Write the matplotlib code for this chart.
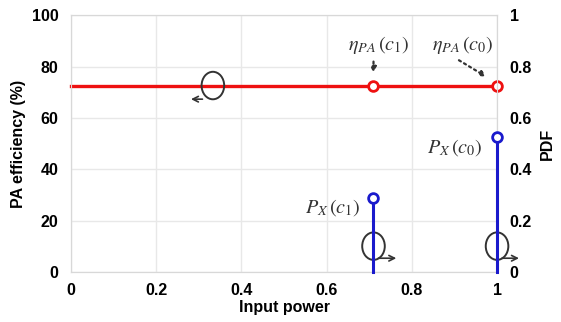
import matplotlib
matplotlib.use("Agg")
import matplotlib.pyplot as plt
from matplotlib.patches import Ellipse
from matplotlib.ticker import FuncFormatter

# Data
eff_x = [0.0, 0.71, 1.0]
eff_y = [72.5, 72.5, 72.5]
pdf_x = [0.71, 1.0]
pdf_y = [0.29, 0.525]
x_ticks = [0, 0.2, 0.4, 0.6, 0.8, 1.0]
left_ticks = [0, 20, 40, 60, 80, 100]
right_ticks = [0, 0.2, 0.4, 0.6, 0.8, 1.0]

plt.rcParams['font.family'] = ['Liberation Sans', 'DejaVu Sans']
plt.rcParams['mathtext.fontset'] = 'stix'

fig = plt.figure(figsize=(5.61, 3.22), dpi=100)
ax = fig.add_axes([0.1266, 0.155, 0.7594, 0.798])
ax2 = ax.twinx()

def fmt(v, pos):
    if abs(v - round(v)) < 1e-9:
        return str(int(round(v)))
    return ('%.1f' % v)

ax.set_xlim(0, 1)
ax.set_ylim(0, 100)
ax2.set_ylim(0, 1)
ax.set_xticks(x_ticks)
ax.set_yticks(left_ticks)
ax2.set_yticks(right_ticks)
ax.xaxis.set_major_formatter(FuncFormatter(fmt))
ax2.yaxis.set_major_formatter(FuncFormatter(fmt))

ax.grid(True, color='#e8e8e8', linewidth=1.0)
ax.set_axisbelow(True)
for a in (ax, ax2):
    for s in a.spines.values():
        s.set_color('#d8d8d8')
    a.tick_params(length=0, labelsize=11.5)
    for lab in a.get_xticklabels() + a.get_yticklabels():
        lab.set_fontweight('bold')
ax.tick_params(axis='x', pad=8)
ax.tick_params(axis='y', pad=9)
ax2.tick_params(axis='y', pad=9)

ax.set_xlabel('Input power', fontsize=11.5, fontweight='bold', labelpad=1)
ax.set_ylabel('PA efficiency (%)', fontsize=11.5, fontweight='bold', labelpad=4)
ax2.set_ylabel('PDF', fontsize=11.5, fontweight='bold', labelpad=6)

# Efficiency line
ax.plot(eff_x, eff_y, color='#ee1111', linewidth=2.4, marker='o', markevery=[1, 2],
        markersize=7, markerfacecolor='white', markeredgecolor='#ee1111',
        markeredgewidth=2, clip_on=False, zorder=5)

# PDF stems
for xv, yv in zip(pdf_x, pdf_y):
    ax2.plot([xv, xv], [0, yv], color='#1a1acc', linewidth=2.2, zorder=4, clip_on=False)
ax2.plot(pdf_x, pdf_y, linestyle='none', marker='o', markersize=7,
         markerfacecolor='white', markeredgecolor='#1a1acc', markeredgewidth=2,
         clip_on=False, zorder=6)

# Axis indicator circles
def circ(xc, yc, tail, head, ya):
    ax.add_patch(Ellipse((xc, yc), 0.053, 10.7, fill=False, edgecolor='#333333',
                         linewidth=1.4, clip_on=False, zorder=7))
    ax.annotate('', xy=(head, ya), xytext=(tail, ya),
                arrowprops=dict(arrowstyle='->', color='#333333', lw=1.2),
                annotation_clip=False, zorder=7)

circ(0.333, 72.6, 0.315, 0.275, 67.3)
circ(0.71, 10.1, 0.715, 0.77, 5.4)
circ(1.0, 10.1, 1.005, 1.058, 5.4)

# Annotations
tkw = dict(fontsize=14.5, ha='center', va='center', color='#333333')
ax.text(0.722, 88.5, r'$\eta_{PA}\,\left(c_1\right)$', **tkw)
ax.text(0.92, 88.5, r'$\eta_{PA}\,\left(c_0\right)$', **tkw)
ax.text(0.90, 48.5, r'$P_X\,\left(c_0\right)$', **tkw)
ax.text(0.615, 25, r'$P_X\,\left(c_1\right)$', **tkw)

ax.annotate('', xy=(0.71, 76.5), xytext=(0.71, 83),
            arrowprops=dict(arrowstyle='-|>', color='#333333', lw=1.6, linestyle=':',
                            mutation_scale=8))
ax.annotate('', xy=(0.98, 75.5), xytext=(0.905, 83),
            arrowprops=dict(arrowstyle='-|>', color='#333333', lw=1.6, linestyle=':',
                            mutation_scale=8))

fig.savefig('out.png', dpi=100)
